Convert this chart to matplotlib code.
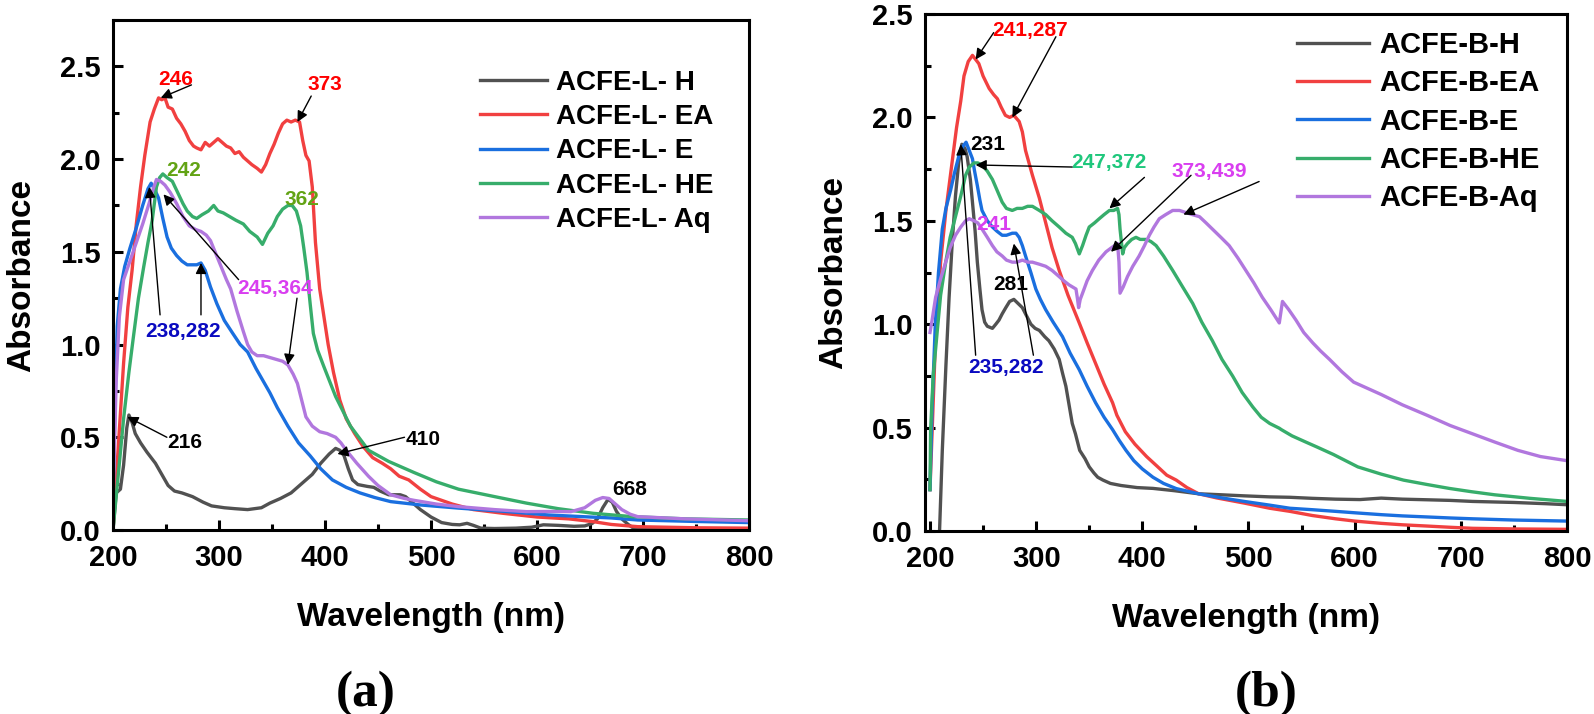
import matplotlib.pyplot as plt
from matplotlib.ticker import MultipleLocator

plt.rcParams['font.family'] = ['Liberation Sans', 'DejaVu Sans']
plt.rcParams['font.weight'] = 'bold'

# ---------------- panel (a) : ACFE-L extracts ----------------
a_labels = ['ACFE-L- H', 'ACFE-L- EA', 'ACFE-L- E', 'ACFE-L- HE', 'ACFE-L- Aq']

a_h_x = [200, 203, 207, 210, 213, 215, 218, 221, 226, 232, 240, 247, 252, 258, 265, 275, 285, 293, 305, 315,
         327, 340, 348, 358, 368, 378, 388, 396, 404, 410, 414, 418, 422, 426, 431, 440, 446, 452, 460, 466,
         471, 476, 482, 490, 500, 510, 520, 527, 534, 540, 547, 560, 580, 595, 606, 620, 635, 645, 652, 657,
         662, 667, 671, 675, 680, 686, 691, 700, 750, 800]
a_h_y = [0.0, 0.2, 0.22, 0.35, 0.55, 0.62, 0.58, 0.52, 0.47, 0.42, 0.36, 0.29, 0.24, 0.21, 0.2, 0.18, 0.15, 0.13, 0.12, 0.115,
         0.11, 0.12, 0.145, 0.17, 0.2, 0.25, 0.3, 0.36, 0.41, 0.44, 0.43, 0.40, 0.33, 0.27, 0.245, 0.235, 0.23, 0.21, 0.19, 0.19,
         0.19, 0.18, 0.15, 0.11, 0.07, 0.04, 0.03, 0.028, 0.036, 0.025, 0.01, 0.008, 0.01, 0.015, 0.028, 0.025, 0.02, 0.022, 0.035, 0.06,
         0.12, 0.165, 0.15, 0.1, 0.06, 0.03, 0.01, 0.005, 0.0, 0.0]

a_ea_x = [200, 205, 210, 214, 218, 222, 226, 230, 235, 239, 243, 246, 249, 252, 256, 260, 264, 268, 272, 276,
          279, 283, 287, 291, 295, 299, 303, 307, 311, 315, 319, 323, 327, 331, 336, 340, 344, 348, 352, 356,
          360, 364, 368, 372, 376, 379, 382, 385, 388, 391, 395, 399, 403, 408, 414, 420, 428, 436, 445, 454,
          462, 470, 479, 490, 500, 520, 540, 568, 600, 630, 653, 670, 695, 750, 800]
a_ea_y = [0.0, 0.45, 0.9, 1.2, 1.4, 1.65, 1.85, 2.02, 2.2, 2.27, 2.33, 2.32, 2.33, 2.28, 2.27, 2.22, 2.19, 2.15, 2.10, 2.07,
          2.06, 2.05, 2.09, 2.07, 2.09, 2.11, 2.09, 2.07, 2.06, 2.03, 2.04, 2.01, 1.99, 1.97, 1.95, 1.93, 1.97, 2.03, 2.08, 2.14,
          2.19, 2.21, 2.20, 2.21, 2.20, 2.10, 2.02, 1.99, 1.85, 1.55, 1.3, 1.15, 1.0, 0.85, 0.7, 0.6, 0.52, 0.45, 0.39, 0.36,
          0.33, 0.29, 0.27, 0.22, 0.18, 0.14, 0.11, 0.09, 0.07, 0.06, 0.045, 0.03, 0.018, 0.012, 0.01]

a_e_x = [200, 202, 204, 207, 211, 216, 222, 228, 233, 236, 239, 243, 247, 251, 255, 260, 265, 270, 275, 279,
         283, 287, 292, 298, 305, 313, 320, 327, 335, 342, 348, 355, 365, 375, 386, 396, 407, 420, 433, 447,
         462, 490, 526, 570, 611, 650, 670, 695, 750, 800]
a_e_y = [0.2, 0.7, 1.1, 1.3, 1.42, 1.52, 1.63, 1.75, 1.84, 1.87, 1.84, 1.79, 1.68, 1.58, 1.52, 1.48, 1.45, 1.43, 1.43, 1.43,
         1.44, 1.40, 1.31, 1.22, 1.13, 1.06, 1.0, 0.96, 0.87, 0.80, 0.74, 0.66, 0.56, 0.47, 0.40, 0.33, 0.27, 0.23, 0.20, 0.175,
         0.153, 0.135, 0.118, 0.1, 0.081, 0.07, 0.065, 0.054, 0.046, 0.04]

a_he_x = [200, 205, 210, 215, 219, 224, 229, 233, 237, 241, 244, 247, 251, 256, 261, 266, 270, 275, 279, 284,
          290, 295, 299, 304, 310, 316, 323, 329, 336, 341, 346, 351, 355, 360, 365, 369, 373, 377, 380, 383,
          386, 389, 393, 399, 410, 424, 441, 460, 484, 505, 526, 560, 590, 620, 653, 690, 740, 800]
a_he_y = [0.0, 0.3, 0.6, 0.85, 1.03, 1.25, 1.42, 1.55, 1.67, 1.85, 1.9, 1.92, 1.9, 1.88, 1.82, 1.76, 1.72, 1.69, 1.68, 1.70,
          1.72, 1.75, 1.72, 1.71, 1.69, 1.67, 1.65, 1.61, 1.58, 1.54, 1.60, 1.64, 1.69, 1.73, 1.75, 1.75, 1.72, 1.64, 1.52, 1.39,
          1.22, 1.06, 0.97, 0.88, 0.72, 0.56, 0.43, 0.37, 0.31, 0.26, 0.22, 0.18, 0.145, 0.115, 0.09, 0.072, 0.06, 0.054]

a_aq_x = [200, 203, 206, 210, 216, 222, 228, 234, 238, 241, 245, 249, 254, 260, 266, 272, 278, 283, 288, 292,
          297, 302, 307, 311, 317, 323, 327, 331, 336, 342, 348, 354, 360, 365, 370, 374, 378, 382, 388, 395,
          402, 410, 415, 420, 430, 441, 450, 462, 475, 484, 505, 526, 560, 590, 615, 632, 645, 655, 662, 668,
          674, 680, 688, 695, 740, 800]
a_aq_y = [0.15, 0.8, 1.15, 1.35, 1.45, 1.55, 1.65, 1.76, 1.84, 1.89, 1.88, 1.86, 1.82, 1.76, 1.69, 1.64, 1.62, 1.61, 1.59, 1.56,
          1.49, 1.42, 1.35, 1.30, 1.18, 1.07, 1.0, 0.96, 0.94, 0.94, 0.93, 0.92, 0.91, 0.89, 0.84, 0.79, 0.70, 0.61, 0.56, 0.53,
          0.52, 0.50, 0.47, 0.43, 0.36, 0.29, 0.24, 0.19, 0.17, 0.16, 0.14, 0.126, 0.11, 0.099, 0.1, 0.099, 0.12, 0.16, 0.175, 0.17,
          0.14, 0.11, 0.085, 0.072, 0.06, 0.05]

# ---------------- panel (b) : ACFE-B extracts ----------------
b_labels = ['ACFE-B-H', 'ACFE-B-EA', 'ACFE-B-E', 'ACFE-B-HE', 'ACFE-B-Aq']

b_h_x = [209, 211.6, 215, 218, 221, 224, 227, 230, 233, 235, 238, 240, 242.5, 244.6, 247, 249, 251.5, 254, 258.8, 262,
         265, 268, 271.4, 275, 279, 283, 287, 291, 295, 299, 303, 308, 312, 317, 321.7, 325, 328, 331, 334, 337,
         341, 346, 350, 354.5, 358, 363, 370, 380, 395, 410, 430, 453, 475, 496, 520, 539, 560, 582, 605, 625,
         645, 668, 690, 711, 750, 780, 800]
b_h_y = [0.0, 0.39, 0.8, 1.13, 1.4, 1.62, 1.78, 1.87, 1.85, 1.81, 1.70, 1.59, 1.45, 1.30, 1.17, 1.07, 1.01, 0.99, 0.98, 1.0,
         1.02, 1.05, 1.08, 1.11, 1.12, 1.10, 1.08, 1.04, 1.0, 0.98, 0.97, 0.94, 0.92, 0.88, 0.83, 0.76, 0.70, 0.61, 0.52, 0.47,
         0.39, 0.35, 0.31, 0.28, 0.26, 0.246, 0.23, 0.22, 0.21, 0.206, 0.195, 0.18, 0.175, 0.17, 0.165, 0.163, 0.158, 0.154, 0.152, 0.159,
         0.154, 0.151, 0.148, 0.143, 0.138, 0.132, 0.127]

b_ea_x = [200, 205, 210, 215, 220, 225, 229, 232, 236, 240, 243, 246, 250, 255.7, 260, 263.5, 267, 271, 275, 279,
          284, 287, 290, 296.5, 303, 309, 315, 321.7, 330, 340.6, 348, 356, 364, 372, 376, 384, 393, 404, 414.6, 423,
          432, 442, 453, 470, 496, 520, 539, 560, 582, 600, 625, 645, 668, 690, 711, 750, 800]
b_ea_y = [0.2, 0.9, 1.3, 1.55, 1.75, 1.95, 2.08, 2.2, 2.27, 2.30, 2.28, 2.26, 2.2, 2.14, 2.11, 2.09, 2.05, 2.01, 2.0, 2.01,
          1.98, 1.93, 1.84, 1.72, 1.61, 1.49, 1.37, 1.26, 1.14, 1.006, 0.91, 0.81, 0.71, 0.62, 0.56, 0.48, 0.42, 0.36, 0.31, 0.27,
          0.246, 0.21, 0.18, 0.16, 0.135, 0.11, 0.095, 0.075, 0.059, 0.048, 0.037, 0.03, 0.024, 0.018, 0.013, 0.01, 0.008]

b_e_x = [200, 202, 205, 208, 211.6, 215, 219.5, 223, 227, 231, 234, 237, 240, 242, 244.6, 247, 249, 254, 258.8, 263,
         268, 272, 277.5, 281, 284, 287, 290, 295, 299.7, 304, 309, 316, 324.8, 332, 340.6, 348, 356, 364, 372, 378,
         384.6, 392, 400, 410, 420, 432, 453, 475, 496, 520, 539, 560, 582, 603, 625, 645, 668, 690, 711, 750, 800]
b_e_y = [0.2, 0.6, 1.0, 1.25, 1.46, 1.56, 1.65, 1.73, 1.81, 1.86, 1.88, 1.84, 1.80, 1.74, 1.67, 1.60, 1.55, 1.50, 1.47, 1.45,
         1.43, 1.43, 1.44, 1.44, 1.42, 1.38, 1.33, 1.25, 1.17, 1.12, 1.07, 1.01, 0.94, 0.86, 0.78, 0.70, 0.62, 0.55, 0.49, 0.44,
         0.39, 0.34, 0.30, 0.26, 0.23, 0.205, 0.18, 0.16, 0.143, 0.125, 0.11, 0.103, 0.095, 0.087, 0.079, 0.073, 0.068, 0.063, 0.059, 0.053, 0.048]

b_he_x = [200, 200.6, 203, 206.9, 210, 214.8, 219, 224, 229, 233.5, 237, 241.5, 245, 249, 254, 258.8, 263, 268, 272, 277.5,
          282, 287, 292, 296.5, 303, 309, 315, 321.7, 328, 334, 337, 340.6, 343.7, 347, 350, 355, 359.4, 364, 369, 373,
          376.7, 378, 379, 381.5, 383, 386, 390, 394, 398, 403.5, 408, 413, 420, 428.6, 438, 447.5, 456, 466, 475, 485,
          494, 504, 512, 520, 529, 531, 541, 554, 565, 580, 603, 625, 646, 668, 689, 710, 732, 765, 800]
b_he_y = [0.2, 0.49, 0.75, 0.97, 1.14, 1.30, 1.42, 1.52, 1.62, 1.72, 1.76, 1.78, 1.78, 1.77, 1.74, 1.70, 1.65, 1.59, 1.56, 1.55,
          1.56, 1.56, 1.57, 1.57, 1.55, 1.53, 1.50, 1.47, 1.44, 1.42, 1.39, 1.34, 1.38, 1.43, 1.47, 1.49, 1.51, 1.53, 1.55, 1.55,
          1.56, 1.53, 1.46, 1.34, 1.37, 1.39, 1.41, 1.42, 1.41, 1.41, 1.40, 1.38, 1.33, 1.26, 1.18, 1.10, 1.01, 0.92, 0.83, 0.75,
          0.67, 0.60, 0.55, 0.52, 0.497, 0.49, 0.46, 0.43, 0.405, 0.37, 0.31, 0.275, 0.246, 0.225, 0.206, 0.19, 0.175, 0.158, 0.143]

b_aq_x = [200, 202, 205.3, 210, 214.8, 219, 224, 229, 233.5, 237, 241.5, 245, 249, 254, 258.8, 263, 268, 272, 277.5, 282,
          287, 292, 296.5, 303, 309, 315, 321.7, 326, 331, 337.5, 339, 340, 341.5, 343.7, 348, 353, 359, 365.8, 371, 376.7,
          378, 379, 382, 386, 391, 397, 402, 406.6, 411, 416, 422, 428.6, 435, 441, 447, 453.8, 460, 466, 474, 481.8,
          490, 497.5, 505, 513, 521, 529, 532, 538, 544.7, 552, 560.5, 568, 576.3, 588, 599, 612, 625, 645, 668, 690,
          711, 732, 753.7, 775, 800]
b_aq_y = [0.96, 1.02, 1.13, 1.22, 1.30, 1.37, 1.43, 1.47, 1.50, 1.51, 1.50, 1.49, 1.46, 1.42, 1.38, 1.35, 1.33, 1.31, 1.30, 1.30,
          1.31, 1.30, 1.30, 1.29, 1.28, 1.26, 1.23, 1.21, 1.19, 1.17, 1.12, 1.08, 1.12, 1.15, 1.21, 1.26, 1.31, 1.35, 1.37, 1.39,
          1.30, 1.15, 1.18, 1.23, 1.28, 1.33, 1.38, 1.43, 1.47, 1.51, 1.53, 1.55, 1.55, 1.54, 1.53, 1.52, 1.49, 1.46, 1.42, 1.38,
          1.32, 1.26, 1.20, 1.13, 1.07, 1.006, 1.11, 1.07, 1.02, 0.96, 0.91, 0.87, 0.83, 0.77, 0.72, 0.69, 0.66, 0.61, 0.56, 0.51,
          0.47, 0.43, 0.39, 0.36, 0.34]

line_colors = ['#515151', '#F14040', '#1A6FDF', '#37AD6B', '#B177DE']

# peak labels: (text, x, y, colour) and arrows: (from x, from y, to x, to y)
a_notes = [('246', 259, 2.43, '#ff0000'), ('373', 400, 2.40, '#ff0000'),
           ('242', 267, 1.94, '#62a314'), ('362', 378, 1.78, '#62a314'),
           ('245,364', 353, 1.30, '#d93ef0'), ('238,282', 266, 1.07, '#0a0ac0'),
           ('216', 268, 0.47, 'black'), ('410', 493, 0.49, 'black'), ('668', 687, 0.216, 'black')]
a_arrows = [(274, 2.40, 245, 2.33), (387, 2.34, 374, 2.20), (318.5, 1.35, 247.6, 1.81),
            (373.6, 1.25, 365, 0.89), (244.4, 1.16, 234.3, 1.85), (283, 1.16, 283, 1.44),
            (250.8, 0.50, 213.5, 0.61), (475, 0.50, 411.7, 0.41)]

b_notes = [('241,287', 294, 2.42, '#ff0000'), ('231', 254, 1.87, 'black'),
           ('247,372', 369, 1.78, '#1fc77c'), ('373,439', 463, 1.74, '#d93ef0'),
           ('241', 260, 1.48, '#d93ef0'), ('281', 276, 1.19, 'black'),
           ('235,282', 271.4, 0.79, '#0a0ac0')]
b_arrows = [(260, 2.41, 243, 2.28), (318.6, 2.39, 277.6, 2.0), (243, 0.85, 229, 1.87),
            (297.4, 0.85, 279, 1.39), (334, 1.76, 243, 1.77), (402, 1.71, 369, 1.56),
            (445.9, 1.72, 370.5, 1.35), (510, 1.69, 438.7, 1.53)]

W, H = 1594, 714
fig = plt.figure(figsize=(W / 100, H / 100), dpi=100)
ax1 = fig.add_axes([113 / W, 1 - 530 / H, (749 - 113) / W, (530 - 20) / H])
ax2 = fig.add_axes([925 / W, 1 - 531 / H, (1567 - 925) / W, (531 - 14) / H])


def style_axes(ax, xlim, ylim):
    ax.set_xlim(*xlim)
    ax.set_ylim(*ylim)
    ax.xaxis.set_major_locator(MultipleLocator(100))
    ax.xaxis.set_minor_locator(MultipleLocator(50))
    ax.yaxis.set_major_locator(MultipleLocator(0.5))
    ax.yaxis.set_minor_locator(MultipleLocator(0.25))
    ax.tick_params(which='both', direction='in', width=2.2, top=False, right=False)
    ax.tick_params(which='major', length=7, labelsize=21)
    ax.tick_params(axis='x', which='major', pad=10)
    ax.tick_params(axis='y', which='major', pad=9)
    ax.tick_params(which='minor', length=4)
    for s in ax.spines.values():
        s.set_linewidth(2.2)
    for lab in ax.get_xticklabels() + ax.get_yticklabels():
        lab.set_fontweight('bold')
    ax.set_xlabel('Wavelength (nm)', fontsize=24, fontweight='bold', labelpad=22)
    ax.set_ylabel('Absorbance', fontsize=24, fontweight='bold', labelpad=16)


def notes(ax, texts, arrows):
    for t, x, y, c in texts:
        ax.text(x, y, t, color=c, fontsize=15, fontweight='bold', ha='center', va='center')
    for x0, y0, x1, y1 in arrows:
        ax.annotate('', xy=(x1, y1), xytext=(x0, y0),
                    arrowprops=dict(arrowstyle='-|>', color='black', lw=1.0,
                                    mutation_scale=16, shrinkA=0, shrinkB=0))


# panel a
for xs, ys, c, lab in zip([a_h_x, a_ea_x, a_e_x, a_he_x, a_aq_x],
                          [a_h_y, a_ea_y, a_e_y, a_he_y, a_aq_y], line_colors, a_labels):
    ax1.plot(xs, ys, color=c, lw=2.4, label=lab)
style_axes(ax1, (200, 800), (0, 2.75))
notes(ax1, a_notes, a_arrows)
ax1.legend(loc='upper left', bbox_to_anchor=(0.555, 0.93), frameon=False, borderpad=0,
           prop={'size': 20, 'weight': 'bold'}, handlelength=2.4, handletextpad=0.35, labelspacing=0.3)

# panel b
for xs, ys, c, lab in zip([b_h_x, b_ea_x, b_e_x, b_he_x, b_aq_x],
                          [b_h_y, b_ea_y, b_e_y, b_he_y, b_aq_y], line_colors, b_labels):
    ax2.plot(xs, ys, color=c, lw=2.4, label=lab)
style_axes(ax2, (195.3, 800), (0, 2.5))
notes(ax2, b_notes, b_arrows)
ax2.legend(loc='upper left', bbox_to_anchor=(0.557, 0.995), frameon=False, borderpad=0,
           prop={'size': 21, 'weight': 'bold'}, handlelength=2.45, handletextpad=0.35, labelspacing=0.35)

# sub-figure letters
fig.text(366 / W, 1 - 694 / H, '(a)', fontsize=37, fontweight='bold', family='Liberation Serif',
         ha='center', va='center')
fig.text(1266 / W, 1 - 694 / H, '(b)', fontsize=37, fontweight='bold', family='Liberation Serif',
         ha='center', va='center')

fig.savefig('out.png', dpi=100)
